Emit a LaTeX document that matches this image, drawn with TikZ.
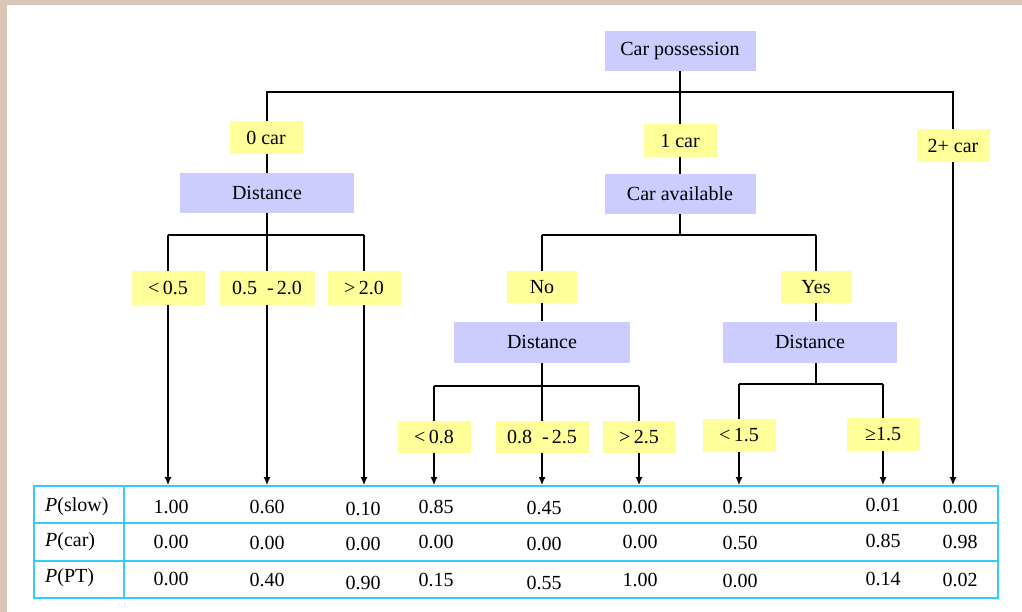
\documentclass[tikz,border=0pt]{standalone}
\usepackage{fontspec}
\setmainfont{Liberation Serif}
\usepackage{tikz}
\usepackage{xcolor}
\usetikzlibrary{arrows.meta,positioning,calc,backgrounds}
\definecolor{Lav}{HTML}{CCCCFF}
\definecolor{Lemon}{HTML}{FFFF99}
\definecolor{Cyan}{HTML}{33CCFF}
\definecolor{Frame}{HTML}{D9C6B9}

\tikzset{
  decbox/.style={fill=Lav,inner sep=0pt,minimum height=40pt,font=\fontsize{20}{24}\selectfont},
  labbox/.style={fill=Lemon,inner sep=0pt,minimum width=73pt,minimum height=33pt,font=\fontsize{20}{24}\selectfont},
  branch/.style={line width=1.3pt,black},
  leaf/.style={branch,-{Latex[length=8pt,width=7pt]}},
  cell/.style={inner sep=0pt,font=\fontsize{20}{24}\selectfont}
}

\begin{document}
\begin{tikzpicture}[x=1pt,y=-1pt]
  \useasboundingbox (0,0) rectangle (1022,612);
  % decision nodes
  \node[decbox,minimum width=151pt] (cp) at (680,51) {Car possession};
  \node[labbox] (car0) at (266,138) {0 car};
  \node[labbox] (car1) at (680,141) {1 car};
  \node[labbox] (car2) at (953,146) {2+ car};
  \node[decbox,minimum width=174pt] (dist0) at (267,193) {Distance};
  \node[decbox,minimum width=151pt] (avail) at (680,194) {Car available};
  \node[labbox] (d05) at (168,288) {<\,0.5};
  \node[labbox,minimum width=95pt] (d0520) at (267,288) {0.5\ \ -\,2.0};
  \node[labbox] (d20) at (364,288) {>\,2.0};
  \node[labbox,minimum width=71pt,minimum height=32pt] (no) at (542,287) {No};
  \node[labbox,minimum width=71pt,minimum height=32pt] (yes) at (816,287) {Yes};
  \node[decbox,minimum width=176pt,minimum height=41pt] (distN) at (542,342) {Distance};
  \node[decbox,minimum width=174pt,minimum height=41pt] (distY) at (810,342) {Distance};
  \node[labbox,minimum height=32pt] (d08) at (434,437) {<\,0.8};
  \node[labbox,minimum width=93pt,minimum height=32pt] (d0825) at (542,437) {0.8\ \ -\,2.5};
  \node[labbox,minimum height=32pt] (d25) at (639,437) {>\,2.5};
  \node[labbox] (d15a) at (739,435) {<\,1.5};
  \node[labbox] (d15b) at (883,434) {≥1.5};

  % probability table
  \node[draw=Cyan,line width=1.8pt,minimum width=964pt,minimum height=112pt,inner sep=0pt] (tab) at (516,542) {};
  \coordinate (r1) at (0,523);
  \coordinate (r2) at (0,561);
  \coordinate (hd) at (124,0);
  \draw[Cyan,line width=1.8pt] (tab.west |- r1) -- (tab.east |- r1);
  \draw[Cyan,line width=1.8pt] (tab.west |- r2) -- (tab.east |- r2);
  \draw[Cyan,line width=1.8pt] (tab.north -| hd) -- (tab.south -| hd);
  \node[cell,anchor=west] (pslow) at (45,507) {\textit{P}(slow)};
  \node[cell,anchor=west] (pcar) at (45,542) {\textit{P}(car)};
  \node[cell,anchor=west] (ppt) at (45,578) {\textit{P}(PT)};
  \foreach \x/\y/\t/\n in {171/507/1.00/a1, 267/507/0.60/b1, 363/509/0.10/c1,
      436/507/0.85/d1, 544/508/0.45/e1, 640/507/0.00/f1, 740/507/0.50/g1,
      883/505/0.01/h1, 960/507/0.00/i1,
      171/542/0.00/a2, 267/543/0.00/b2, 363/544/0.00/c2, 436/542/0.00/d2,
      544/544/0.00/e2, 640/542/0.00/f2, 740/543/0.50/g2, 883/541/0.85/h2,
      960/542/0.98/i2,
      171/579/0.00/a3, 267/580/0.40/b3, 363/583/0.90/c3, 436/580/0.15/d3,
      544/583/0.55/e3, 640/580/1.00/f3, 740/581/0.00/g3, 883/579/0.14/h3,
      960/580/0.02/i3}
    \node[cell] (\n) at (\x,\y) {\t};

  % connectors behind the boxes
  \begin{scope}[on background layer]
    \fill[Frame] (0,0) rectangle (1022,612);
    \fill[white] (7,5) rectangle (1022,612);
    \coordinate (cpbus) at (680,92);
    \coordinate (d0bus) at (267,235);
    \coordinate (avbus) at (680,235);
    \coordinate (dnbus) at (542,386);
    \coordinate (dybus) at (810,384);
    \draw[branch] (cp.south) -- (avail.north);
    \draw[branch] (dist0.north) |- (cpbus);
    \draw[leaf] (cpbus) -| (car2 |- tab.north);
    \draw[branch] (dist0.south) -- (d0bus);
    \draw[branch] (d0bus -| d05) -- (d0bus -| d20);
    \draw[leaf] (d0bus -| d05) -- (d05 |- tab.north);
    \draw[leaf] (d0bus) -- (d0520 |- tab.north);
    \draw[leaf] (d0bus -| d20) -- (d20 |- tab.north);
    \draw[branch] (avail.south) -- (avbus);
    \draw[branch] (avbus -| no) -- (avbus -| yes);
    \draw[branch] (avbus -| no) -- (distN.north);
    \draw[branch] (avbus -| yes) -- (yes.south);
    \draw[branch] (distN.south) -- (dnbus);
    \draw[branch] (dnbus -| d08) -- (dnbus -| d25);
    \draw[leaf] (dnbus -| d08) -- (d08 |- tab.north);
    \draw[leaf] (dnbus) -- (d0825 |- tab.north);
    \draw[leaf] (dnbus -| d25) -- (d25 |- tab.north);
    \draw[branch] (yes.south) -- (yes |- distY.north);
    \draw[branch] (yes |- distY.south) -- (dybus -| yes);
    \draw[branch] (dybus -| d15a) -- (dybus -| d15b);
    \draw[leaf] (dybus -| d15a) -- (d15a |- tab.north);
    \draw[leaf] (dybus -| d15b) -- (d15b |- tab.north);
  \end{scope}
\end{tikzpicture}
\end{document}
